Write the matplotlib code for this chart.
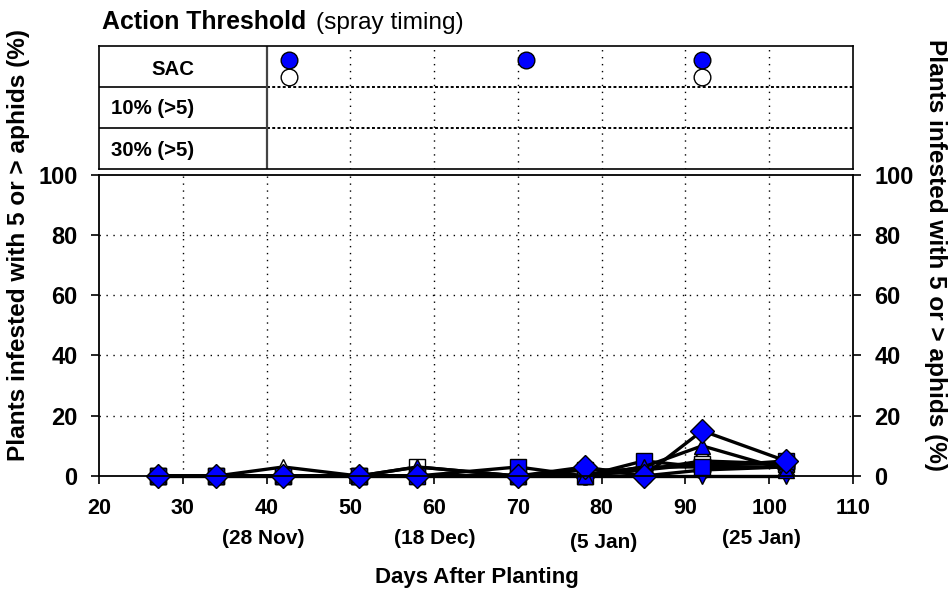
import matplotlib
matplotlib.use("Agg")
import matplotlib.pyplot as plt
from matplotlib.transforms import blended_transform_factory

plt.rcParams['font.family'] = ['Liberation Sans', 'DejaVu Sans']

# Sampling days (days after planting)
days = [27, 34, 42, 51, 58, 70, 78, 85, 92, 102]

# Percent of plants infested with 5 or more aphids, per treatment
open_circle = [0, 0, 0, 0, 0, 0, 0, 2, 5, 4]
filled_circle = [0, 0, 0, 0, 0, 0, 0, 0, 2, 3]
open_triangle = [0, 0, 3, 0, 0, 0, 0, 3, 3, 3]
open_square = [0, 0, 0, 0, 3, 0, 2, 2, 4, 4]
filled_tri_down = [0, 0, 0, 0, 0, 0, 0, 0, 0, 0]
filled_square = [0, 0, 0, 0, 0, 3, 0, 5, 3, 5]
filled_tri_up = [0, 0, 0, 0, 3, 0, 0, 3, 10, 2]
filled_diamond = [0, 0, 0, 0, 0, 0, 3, 0, 15, 5]

# Spray timing under the SAC action threshold
sac_filled_days = [42.7, 71, 92]
sac_open_days = [42.7, 92]
threshold_rows = ["SAC", "10% (>5)", "30% (>5)"]

x_ticks = [20, 30, 40, 50, 60, 70, 80, 90, 100, 110]
y_ticks = [0, 20, 40, 60, 80, 100]
date_pos = [39.6, 60.1, 80.2, 99.1]
date_labels = ["(28 Nov)", "(18 Dec)", "(5 Jan)", "(25 Jan)"]

BLUE = "#0000ff"
W, H = 951, 591
fig = plt.figure(figsize=(W / 100, H / 100), dpi=100)


def fx(px):
    return px / W


def fy(px):
    return 1 - px / H


# ---- main infestation panel ----
ax = fig.add_axes([fx(99), fy(476), fx(853) - fx(99), fy(174.5) - fy(476)])
series = [
    (open_circle, "o", "white"),
    (filled_circle, "o", BLUE),
    (open_triangle, "^", "white"),
    (open_square, "s", "white"),
    (filled_tri_down, "v", BLUE),
    (filled_square, "s", BLUE),
    (filled_tri_up, "^", BLUE),
    (filled_diamond, "D", BLUE),
]
for vals, mk, fc in series:
    ax.plot(days, vals, color="black", lw=2.4, marker=mk, ms=12 if mk != "D" else 12.5,
            mfc=fc, mec="black", mew=1.0, clip_on=False)

ax.set_xlim(20, 110)
ax.set_ylim(0, 100)
ax.set_xticks(x_ticks)
ax.set_yticks(y_ticks)
ax.set_xticklabels([str(t) for t in x_ticks], fontsize=15.5, fontweight="bold")
ax.set_yticklabels([str(t) for t in y_ticks], fontsize=17, fontweight="bold")
ax.tick_params(axis="both", direction="out", length=6, width=1.2, color="black")
ax.tick_params(axis="y", left=True, right=True, labelright=True, pad=9.5)
ax.tick_params(axis="x", pad=10)
for v in x_ticks[1:-1]:
    ax.axvline(v, color="black", lw=1.0, ls=(0, (1, 4)), zorder=0)
for v in y_ticks[1:-1]:
    ax.axhline(v, color="black", lw=1.0, ls=(0, (1, 4)), zorder=0)
for s in ax.spines.values():
    s.set_linewidth(1.3)

trans = blended_transform_factory(ax.transData, fig.transFigure)
for xp, lab in zip(date_pos, date_labels):
    yp = 542 if lab == "(5 Jan)" else 538
    ax.text(xp, fy(yp), lab, transform=trans, ha="center", va="center",
            fontsize=15, fontweight="bold")
fig.text(fx(477), fy(577), "Days After Planting", ha="center", va="center",
         fontsize=16, fontweight="bold")
fig.text(fx(19), fy(245), "Plants infested with 5 or > aphids (%)", rotation=90,
         ha="center", va="center", fontsize=17.6, fontweight="bold")
fig.text(fx(935), fy(255), "Plants infested with 5 or > aphids (%)", rotation=270,
         ha="center", va="center", fontsize=17.6, fontweight="bold")

# ---- action threshold panel ----
tp = fig.add_axes([fx(99), fy(169.3), fx(853) - fx(99), fy(45.7) - fy(169.3)])
tp.set_xlim(20, 110)
tp.set_ylim(0, 3)
tp.set_xticks([])
tp.set_yticks([])
for s in tp.spines.values():
    s.set_linewidth(1.2)
for v in [50, 60, 70, 80, 90, 100]:
    tp.axvline(v, color="black", lw=1.0, ls=(0, (1, 4)), zorder=0)
for yv in [1, 2]:
    tp.plot([20, 40], [yv, yv], color="black", lw=1.2)
    tp.plot([40, 110], [yv, yv], color="black", lw=1.4, ls=(0, (1.5, 1.2)))
tp.axvline(40, color="#444444", lw=1.6)
tp.plot(sac_filled_days, [2.65] * len(sac_filled_days), ls="none", marker="o", ms=12,
        mfc=BLUE, mec="black", mew=1.0, zorder=3)
tp.plot(sac_open_days, [2.245] * len(sac_open_days), ls="none", marker="o", ms=12,
        mfc="white", mec="black", mew=1.0, zorder=2)
tp.text(28.8, 2.42, threshold_rows[0], ha="center", va="center", fontsize=14.7, fontweight="bold")
tp.text(21.4, 1.47, threshold_rows[1], ha="left", va="center", fontsize=14.7, fontweight="bold")
tp.text(21.4, 0.46, threshold_rows[2], ha="left", va="center", fontsize=14.7, fontweight="bold")

fig.text(fx(101.5), fy(29), "Action Threshold", ha="left", va="baseline",
         fontsize=17.9, fontweight="bold")
fig.text(fx(316.5), fy(29), "(spray timing)", ha="left", va="baseline", fontsize=17.6)

fig.savefig("out.png", dpi=100)
